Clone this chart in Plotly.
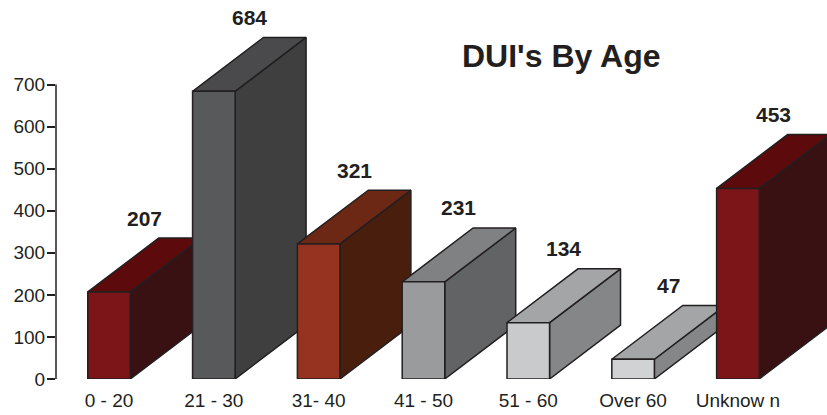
import plotly.graph_objects as go

categories = ["0 - 20", "21 - 30", "31- 40", "41 - 50", "51 - 60", "Over 60", "Unknow n"]
values = [207, 684, 321, 231, 134, 47, 453]
front_colors = ["#7c1518", "#58595b", "#963320", "#9a9b9d", "#c9cacc", "#d1d2d4", "#7c1518"]
top_colors = ["#5c0a0c", "#4a4a4c", "#6c2715", "#808183", "#a4a5a7", "#a4a5a7", "#5c0a0c"]
side_colors = ["#3a1112", "#3f3f40", "#4a1e0d", "#626365", "#858688", "#858688", "#3a1112"]
y_ticks = [0, 100, 200, 300, 400, 500, 600, 700]

HALF_W = 0.203      # half width of the bar front (category units)
DX = 0.677          # depth offset in category units
DY = 128.0          # depth offset in value units
EDGE = "#231f20"
FONT = "Liberation Sans, Arial, sans-serif"

fig = go.Figure()

def face(xs, ys, color):
    fig.add_trace(go.Scatter(
        x=xs + [xs[0]], y=ys + [ys[0]], mode="lines", fill="toself",
        fillcolor=color, line=dict(color=EDGE, width=1.5),
        hoverinfo="skip", showlegend=False))

for i, v in enumerate(values):
    x0, x1 = i - HALF_W, i + HALF_W
    # side face
    face([x1, x1 + DX, x1 + DX, x1], [0, DY, v + DY, v], side_colors[i])
    # top face
    face([x0, x0 + DX, x1 + DX, x1], [v, v + DY, v + DY, v], top_colors[i])
    # front face
    face([x0, x1, x1, x0], [0, 0, v, v], front_colors[i])
    fig.add_annotation(x=i + DX / 2, y=v + DY, yshift=20, text="<b>%d</b>" % v,
                       xanchor="center", yanchor="middle",
                       showarrow=False, font=dict(family=FONT, size=21, color=EDGE))

fig.add_annotation(xref="paper", yref="paper", x=0.655, y=0.853, text="<b>DUI's By Age</b>",
                   xanchor="center", yanchor="middle",
                   showarrow=False, font=dict(family=FONT, size=32, color=EDGE))

fig.add_shape(type="line", xref="paper", yref="y", x0=0, x1=0, y0=0, y1=max(y_ticks),
              line=dict(color=EDGE, width=1.5))

fig.update_layout(
    width=827, height=415,
    margin=dict(l=56, r=0, t=0, b=36, autoexpand=False),
    paper_bgcolor="white", plot_bgcolor="white",
    xaxis=dict(range=[-0.506, 6.85], tickvals=list(range(len(categories))), ticktext=categories,
               showgrid=False, zeroline=False, showline=False, ticks="", automargin=False,
               ticklabelstandoff=8,
               tickfont=dict(family=FONT, size=19, color=EDGE)),
    yaxis=dict(range=[0, 901], tickvals=y_ticks, showgrid=False, zeroline=False, showline=False,
               ticks="outside", ticklen=8, tickwidth=1.5, tickcolor=EDGE, automargin=False,
               ticklabelstandoff=-2,
               tickfont=dict(family=FONT, size=19, color=EDGE)),
)

fig.write_html("out.html", config={"displayModeBar": False},
               post_script="document.body.style.margin='0px';")
